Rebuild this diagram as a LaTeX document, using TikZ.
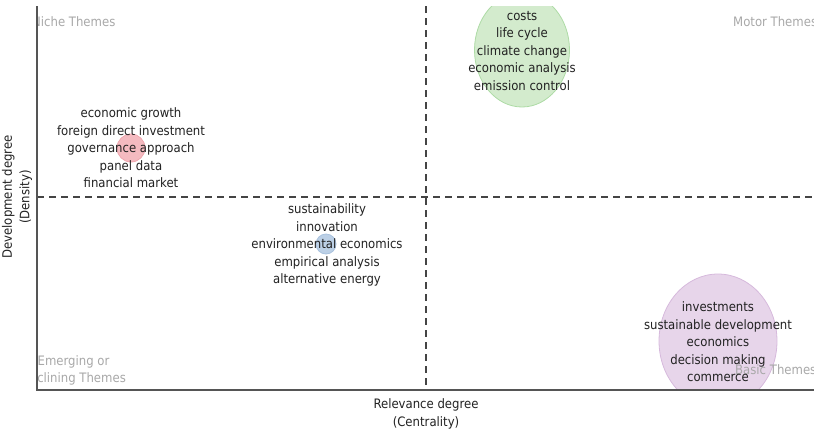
\documentclass[tikz,border=0pt]{standalone}
\usepackage{fontspec}
\setmainfont{DejaVu Sans Condensed}
\usetikzlibrary{shapes.geometric}
\definecolor{txt}{HTML}{222222}
\definecolor{qgray}{HTML}{A8A8A8}
\definecolor{axisc}{HTML}{555555}
\definecolor{dashc}{HTML}{444444}
\definecolor{gfill}{HTML}{D3EBCD}
\definecolor{gline}{HTML}{ADDBA5}
\definecolor{rfill}{HTML}{F4BAC0}
\definecolor{rline}{HTML}{EFA6AE}
\definecolor{bfill}{HTML}{BCD0E6}
\definecolor{bline}{HTML}{A9C2DE}
\definecolor{pfill}{HTML}{E7D5EA}
\definecolor{pline}{HTML}{D6B9DC}
\begin{document}
\begin{tikzpicture}[x=1pt,y=-1pt,
  lbl/.style={text=txt,font=\fontsize{13}{17.5}\selectfont,align=center,inner sep=0pt},
  quad/.style={text=qgray,font=\fontsize{13}{17.5}\selectfont,align=center,inner sep=0pt},
  bubble/.style={ellipse,inner sep=0pt,line width=0.8pt},
  axisline/.style={draw=axisc,line width=1.4pt},
  divline/.style={draw=dashc,line width=1.1pt,dash pattern=on 7pt off 5pt}]
\useasboundingbox (0,0) rectangle (814,432);
\coordinate (o) at (37,390);
\coordinate (tl) at (37,6);
\coordinate (br) at (814,390);
\coordinate (vt) at (426,6);
\coordinate (vb) at (426,390);
\coordinate (hl) at (37,197);
\coordinate (hr) at (814,197);
\begin{scope}
\clip (37,6) rectangle (814,390);
\node[bubble,fill=gfill,draw=gline,minimum width=95pt,minimum height=114pt] (gb) at (522,50) {};
\node[bubble,fill=rfill,draw=rline,minimum width=28pt,minimum height=28pt] (rb) at (131,148) {};
\node[bubble,fill=bfill,draw=bline,minimum width=20pt,minimum height=20pt] (bb) at (326,244) {};
\node[bubble,fill=pfill,draw=pline,minimum width=118pt,minimum height=134pt] (pb) at (718,341) {};
\node[quad,anchor=west] (niche) at (32,22) {Niche Themes};
\node[quad,anchor=west] (motor) at (733,22) {Motor Themes};
\node[quad] (emerg) at (73.5,370.5) {Emerging or\\Declining Themes};
\node[quad,anchor=west] (basic) at (735,370) {Basic Themes};
\end{scope}
\draw[divline] (vt) -- (vb);
\draw[divline] (hl) -- (hr);
\draw[axisline] (tl) -- (o) -- (br);
\node[lbl] (gt) at (522,51) {costs\\life cycle\\climate change\\economic analysis\\emission control};
\node[lbl] (rt) at (131,148) {economic growth\\foreign direct investment\\governance approach\\panel data\\financial market};
\node[lbl] (bt) at (327,245) {sustainability\\innovation\\environmental economics\\empirical analysis\\alternative energy};
\node[lbl] (pt) at (718,342) {investments\\sustainable development\\economics\\decision making\\commerce};
\node[lbl,rotate=90] (ylab) at (17,197) {Development degree\\(Density)};
\node[lbl] (xlab) at (426,414) {Relevance degree\\(Centrality)};
\end{tikzpicture}
\end{document}
